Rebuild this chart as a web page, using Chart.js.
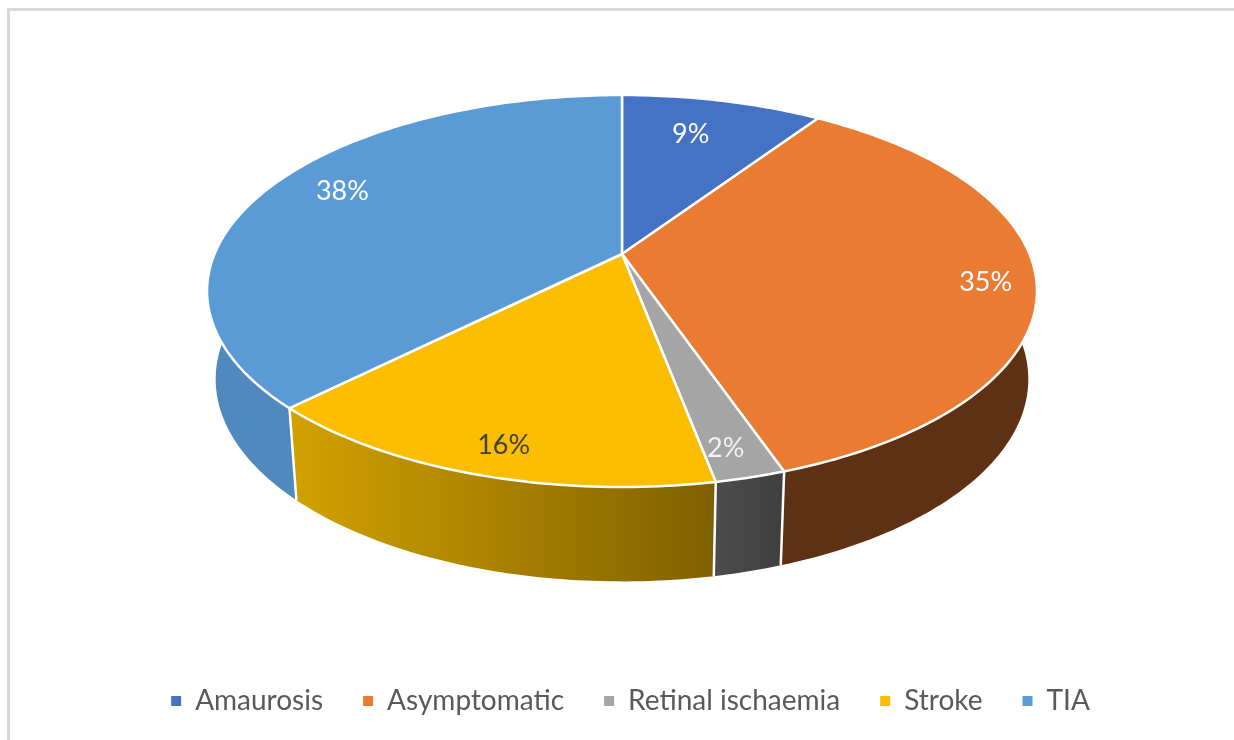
<!DOCTYPE html>
<html>
<head>
<meta charset="utf-8">
<title>Presenting symptoms</title>
<script src="https://cdn.jsdelivr.net/npm/chart.js@4"></script>
<style>
    html, body { margin: 0; padding: 0; background: #fff; overflow: hidden; }
    #wrap { position: absolute; left: 0; top: 0; width: 1234px; height: 740px; }
    #frame { position: absolute; left: 7px; top: 8px; width: 1224px; height: 732px;
             border-top: 3px solid #d9d9d9; border-left: 3px solid #d9d9d9; border-right: 1px solid #eeeeee; }
    canvas { position: absolute; left: 0; top: 0; }
</style>
</head>
<body>
<div id="wrap">
    <div id="frame"></div>
    <canvas id="pieChart" width="1234" height="740"></canvas>
</div>
<script>
var categories = ["Amaurosis", "Asymptomatic", "Retinal ischaemia", "Stroke", "TIA"];
var shares = [9.4, 35.3, 2.3, 15.5, 37.5];

var topColors = ["#4472c4", "#ea7b32", "#a5a5a5", "#fbbd00", "#5b9bd5"];
var wallLeft = ["#2f5597", "#5f3114", "#4c4c4c", "#d2a200", "#5089bd"];
var wallRight = ["#2f5597", "#5f3114", "#3f3f3f", "#7f6000", "#4a7dab"];
var labelColors = ["#ffffff", "#ffffff", "#f2f2f2", "#404040", "#ffffff"];
var labelReach = [0.75, 0.88, 0.885, 0.88, 0.815];
var labelTurn = [-2.1, 1.7, 1, -1, 3.5];

// tilted disc: Excel's 3D pie has perspective, so the apex is not the ellipse centre
var persp = 0.1888;
var topFace = { x: 622, y: 254, a: 407.5, b: 189 };
var lowFace = { x: 622, y: 341, a: 399, b: 195 };

function project(face, angle, r) {
    var u = r * Math.cos(angle);
    var v = r * Math.sin(angle);
    var d = 1 - persp * v;
    return { x: face.x + face.a * u / d, y: face.y + face.b * v / d };
}

function traceArc(ctx, face, from, to) {
    var steps = Math.max(4, Math.ceil(Math.abs(to - from) * 60));
    for (var i = 0; i <= steps; i++) {
        var p = project(face, from + (to - from) * i / steps, 1);
        ctx.lineTo(p.x, p.y);
    }
}

// one path of small quads, a plain strip would miss the silhouette at the sides
function traceWall(ctx, from, to) {
    var steps = Math.max(4, Math.ceil(Math.abs(to - from) * 60));
    for (var i = 0; i < steps; i++) {
        var a0 = from + (to - from) * i / steps;
        var a1 = from + (to - from) * (i + 1) / steps;
        var p0 = project(topFace, a0, 1);
        var p1 = project(topFace, a1, 1);
        var p2 = project(lowFace, a1, 1);
        var p3 = project(lowFace, a0, 1);
        ctx.moveTo(p0.x, p0.y);
        ctx.lineTo(p1.x, p1.y);
        ctx.lineTo(p2.x, p2.y);
        ctx.lineTo(p3.x, p3.y);
        ctx.closePath();
    }
}

var tiltedPie = {
    id: 'tiltedPie',
    beforeDatasetDraw: function (chart, args) {
        var ctx = chart.ctx;
        var arcs = args.meta.data;
        ctx.save();
        ctx.lineJoin = 'round';

        // side walls first, the top face covers whatever faces away
        arcs.forEach(function (arc, i) {
            var x0 = project(topFace, arc.startAngle, 1).x;
            var x1 = project(topFace, arc.endAngle, 1).x;
            var grad = ctx.createLinearGradient(Math.min(x0, x1), 0, Math.max(x0, x1), 0);
            grad.addColorStop(0, wallLeft[i]);
            grad.addColorStop(1, wallRight[i]);
            ctx.beginPath();
            traceWall(ctx, arc.startAngle, arc.endAngle);
            ctx.fillStyle = grad;
            ctx.fill();
        });
        arcs.forEach(function (arc) {
            var a = project(topFace, arc.endAngle, 1);
            var b = project(lowFace, arc.endAngle, 1);
            ctx.beginPath();
            ctx.moveTo(a.x, a.y);
            ctx.lineTo(b.x, b.y);
            ctx.strokeStyle = '#ffffff';
            ctx.lineWidth = 2.5;
            ctx.stroke();
        });

        // top face
        arcs.forEach(function (arc, i) {
            ctx.beginPath();
            ctx.moveTo(topFace.x, topFace.y);
            traceArc(ctx, topFace, arc.startAngle, arc.endAngle);
            ctx.closePath();
            ctx.fillStyle = topColors[i];
            ctx.fill();
            ctx.strokeStyle = '#ffffff';
            ctx.lineWidth = 2.5;
            ctx.stroke();
        });

        // percentage labels
        ctx.font = '27px Lato';
        ctx.textAlign = 'center';
        ctx.textBaseline = 'middle';
        arcs.forEach(function (arc, i) {
            var mid = (arc.startAngle + arc.endAngle) / 2 + labelTurn[i] * Math.PI / 180;
            var p = project(topFace, mid, labelReach[i]);
            ctx.fillStyle = labelColors[i];
            ctx.fillText(Math.round(shares[i]) + '%', p.x, p.y + 1);
        });
        ctx.restore();
        return false;
    }
};

var pieChart = new Chart(document.getElementById("pieChart").getContext("2d"), {
    type: 'pie',
    data: {
        labels: categories,
        datasets: [{
            data: shares,
            backgroundColor: topColors,
            borderWidth: 0
        }]
    },
    plugins: [tiltedPie],
    options: {
        responsive: false,
        animation: false,
        layout: { padding: { left: 27, bottom: 15 } },
        plugins: {
            tooltip: { enabled: false },
            legend: {
                position: 'bottom',
                labels: {
                    boxWidth: 10,
                    boxHeight: 10,
                    padding: 40,
                    color: '#595959',
                    font: { family: 'Lato', size: 28 }
                }
            }
        }
    }
});
</script>
</body>
</html>
